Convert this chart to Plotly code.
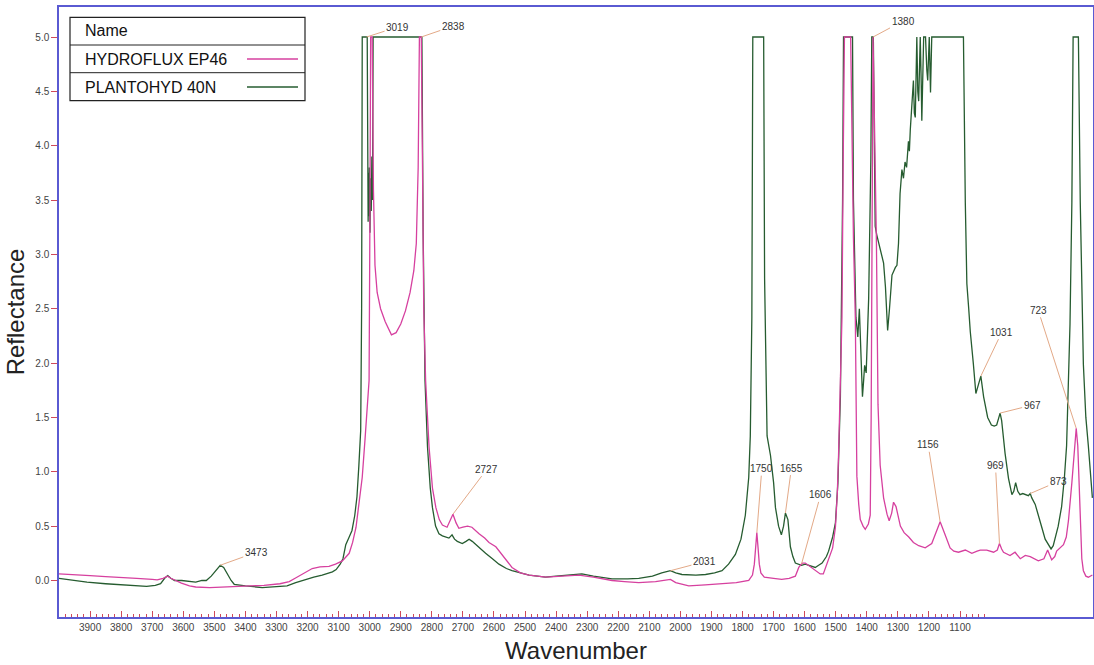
import numpy as np
import plotly.graph_objects as go

# ---------------- data ----------------
hydro_wn = [4000, 3950, 3900, 3850, 3800, 3750, 3700, 3684, 3665, 3651, 3640, 3620, 3606, 3580, 3560,
            3515, 3460, 3400, 3340, 3289, 3259, 3240, 3210, 3185, 3160, 3131, 3110, 3088, 3066, 3055,
            3044, 3034, 3024, 3015, 3008, 3002, 2999, 2997, 2992, 2988, 2983, 2976, 2965, 2950, 2930,
            2915, 2900, 2885, 2870, 2858, 2850, 2844, 2840, 2834, 2830, 2826, 2820, 2809, 2798, 2787,
            2776, 2766, 2751, 2742, 2732, 2722, 2713, 2700, 2685, 2671, 2660, 2648, 2630, 2616, 2594,
            2570, 2542, 2515, 2487, 2433, 2380, 2327, 2280, 2220, 2180, 2134, 2080, 2045, 2032, 2015,
            1973, 1920, 1867, 1820, 1780, 1768, 1762, 1757, 1754, 1750, 1746, 1741, 1730, 1700, 1674,
            1650, 1630, 1619, 1608, 1598, 1580, 1566, 1550, 1540, 1523, 1510, 1501, 1495, 1491, 1485,
            1480, 1476, 1472, 1452, 1448, 1443, 1437, 1432, 1426, 1421, 1412, 1405, 1395, 1389, 1386,
            1384, 1382, 1380, 1377, 1373, 1369, 1364, 1357, 1346, 1335, 1328, 1320, 1314, 1306, 1292,
            1280, 1265, 1250, 1233, 1212, 1191, 1175, 1164, 1148, 1132, 1120, 1105, 1083, 1062, 1045,
            1035, 1014, 992, 980, 973, 966, 960, 939, 923, 906, 890, 874, 860, 848, 830,
            818, 805, 795, 789, 767, 758, 751, 740, 732, 726, 721, 716, 713, 708, 703,
            695, 687, 674]
hydro_val = [0.06, 0.055, 0.045, 0.035, 0.03, 0.02, 0.01, 0.006, 0.02, 0.04, 0.02, -0.01, -0.025, -0.05, -0.06,
             -0.065, -0.06, -0.055, -0.045, -0.03, -0.01, 0.02, 0.07, 0.11, 0.125, 0.13, 0.15, 0.18, 0.25, 0.35,
             0.49, 0.7, 0.95, 1.3, 1.55, 1.84, 3.5, 5.0, 5.0, 3.6, 2.9, 2.65, 2.5, 2.38, 2.26,
             2.28, 2.36, 2.48, 2.65, 2.85, 3.1, 3.8, 5.0, 5.0, 3.8, 2.5, 1.84, 1.23, 0.85, 0.67,
             0.56, 0.51, 0.49, 0.54, 0.61, 0.53, 0.48, 0.49, 0.5, 0.49, 0.46, 0.43, 0.39, 0.35, 0.31,
             0.22, 0.12, 0.07, 0.05, 0.03, 0.04, 0.05, 0.03, 0.0, -0.01, -0.02, -0.01, 0.0, 0.01, -0.02,
             -0.05, -0.04, -0.03, -0.02, 0.0, 0.05, 0.15, 0.32, 0.44, 0.3, 0.15, 0.07, 0.03, 0.02, 0.01,
             0.02, 0.04, 0.12, 0.16, 0.16, 0.12, 0.09, 0.06, 0.06, 0.2, 0.3, 0.49, 0.8, 1.15, 1.8,
             2.42, 3.87, 5.0, 5.0, 4.0, 3.15, 2.42, 0.96, 0.7, 0.56, 0.5, 0.47, 0.52, 0.6, 1.5,
             2.42, 3.8, 5.0, 4.5, 3.85, 3.1, 1.62, 1.06, 0.76, 0.61, 0.55, 0.62, 0.72, 0.68, 0.5,
             0.44, 0.4, 0.35, 0.32, 0.3, 0.34, 0.46, 0.54, 0.42, 0.3, 0.27, 0.26, 0.28, 0.25, 0.27,
             0.28, 0.28, 0.26, 0.28, 0.34, 0.29, 0.26, 0.23, 0.26, 0.2, 0.23, 0.22, 0.2, 0.18, 0.2,
             0.28, 0.19, 0.22, 0.27, 0.33, 0.4, 0.55, 0.9, 1.24, 1.4, 1.24, 0.8, 0.5, 0.2, 0.09,
             0.04, 0.03, 0.05]

planto_wn = [4000, 3950, 3910, 3850, 3797, 3750, 3718, 3690, 3673, 3660, 3650, 3640, 3628, 3605, 3580,
             3560, 3540, 3526, 3510, 3495, 3481, 3470, 3458, 3446, 3436, 3400, 3346, 3300, 3266, 3238,
             3211, 3180, 3153, 3120, 3108, 3095, 3086, 3077, 3066, 3057, 3048, 3041, 3035, 3029, 3026,
             3024, 3008, 3006, 3005, 3004, 3002, 3001, 2999, 2997, 2995, 2993, 2991, 2989, 2832, 2828,
             2822, 2814, 2805, 2798, 2788, 2777, 2766, 2755, 2745, 2735, 2727, 2718, 2702, 2690, 2680,
             2670, 2659, 2645, 2627, 2605, 2584, 2560, 2542, 2487, 2434, 2400, 2349, 2317, 2280, 2220,
             2170, 2134, 2090, 2060, 2032, 2015, 1995, 1950, 1919, 1890, 1866, 1845, 1823, 1805, 1791,
             1780, 1775, 1770, 1767, 1732, 1729, 1721, 1710, 1700, 1694, 1684, 1675, 1668, 1662, 1654,
             1646, 1638, 1630, 1610, 1598, 1580, 1566, 1555, 1544, 1530, 1523, 1510, 1501, 1493, 1485,
             1478, 1475, 1446, 1443, 1435, 1429, 1424, 1418, 1414, 1410, 1407, 1402, 1394, 1387, 1384,
             1379, 1376, 1373, 1368, 1362, 1354, 1346, 1340, 1337, 1333, 1327, 1319, 1308, 1303, 1298,
             1293, 1287, 1282, 1277, 1272, 1266, 1263, 1260, 1255, 1250, 1247, 1244, 1239, 1236, 1233,
             1228, 1225, 1223, 1217, 1211, 1207, 1204, 1199, 1197, 1195, 1191, 1089, 1083, 1078, 1072,
             1067, 1057, 1049, 1041, 1033, 1024, 1011, 999, 990, 982, 976, 971, 966, 955, 944,
             933, 927, 921, 914, 907, 898, 890, 880, 874, 869, 858, 848, 836, 826, 815,
             807, 800, 794, 784, 773, 764, 757, 751, 746, 740, 736, 719, 713, 703, 695,
             687, 674]
planto_val = [0.02, 0.0, -0.015, -0.03, -0.04, -0.05, -0.055, -0.045, -0.03, 0.02, 0.045, 0.02, 0.0, 0.0, -0.01,
              -0.015, 0.0, 0.0, 0.04, 0.09, 0.14, 0.12, 0.06, 0.0, -0.035, -0.05, -0.065, -0.06, -0.05, -0.02,
              0.0, 0.03, 0.05, 0.08, 0.1, 0.15, 0.2, 0.33, 0.4, 0.46, 0.6, 0.77, 1.05, 1.38, 2.5,
              5.0, 5.0, 3.8, 3.3, 3.75, 3.35, 3.8, 3.2, 3.7, 3.4, 3.9, 3.5, 5.0, 5.0, 3.2,
              1.84, 1.23, 0.85, 0.67, 0.5, 0.43, 0.41, 0.4, 0.39, 0.42, 0.38, 0.36, 0.34, 0.36, 0.38,
              0.36, 0.33, 0.29, 0.25, 0.2, 0.15, 0.11, 0.09, 0.05, 0.03, 0.04, 0.05, 0.06, 0.04, 0.015,
              0.015, 0.02, 0.04, 0.07, 0.09, 0.07, 0.055, 0.05, 0.055, 0.07, 0.09, 0.15, 0.24, 0.38, 0.6,
              0.95, 1.33, 2.42, 5.0, 5.0, 2.78, 1.33, 1.15, 0.9, 0.67, 0.5, 0.42, 0.5, 0.62, 0.56,
              0.31, 0.22, 0.16, 0.14, 0.15, 0.13, 0.12, 0.14, 0.16, 0.22, 0.27, 0.4, 0.53, 0.9, 1.69,
              3.5, 5.0, 5.0, 3.5, 2.42, 2.24, 2.5, 2.05, 1.69, 1.85, 1.98, 1.91, 2.6, 3.87, 5.0,
              5.0, 3.8, 3.26, 3.18, 3.1, 3.0, 2.92, 2.7, 2.44, 2.3, 2.5, 2.81, 2.88, 2.9, 3.1,
              3.56, 3.78, 3.7, 3.85, 3.8, 4.04, 3.95, 4.15, 4.34, 4.6, 4.3, 4.26, 5.0, 4.5, 4.41,
              5.0, 4.6, 4.23, 5.0, 5.0, 4.7, 4.6, 5.0, 4.8, 4.49, 5.0, 5.0, 3.48, 2.73, 2.5,
              2.29, 1.99, 1.72, 1.8, 1.88, 1.69, 1.5, 1.43, 1.42, 1.43, 1.5, 1.54, 1.47, 1.17, 0.94,
              0.79, 0.82, 0.9, 0.82, 0.79, 0.8, 0.79, 0.78, 0.8, 0.76, 0.7, 0.61, 0.48, 0.38, 0.32,
              0.29, 0.32, 0.38, 0.5, 0.68, 0.95, 1.24, 1.8, 2.36, 3.48, 5.0, 5.0, 3.48, 1.99, 1.5,
              1.24, 0.76]

series_names = ["HYDROFLUX EP46", "PLANTOHYD 40N"]

# peak labels: text, series index, wavenumber of labelled point, text offset (px)
peak_labels = ["3473", "3019", "2838", "2727", "2031", "1750", "1655", "1606",
               "1380", "1156", "1031", "967", "969", "873", "723"]
peak_series = [1, 1, 1, 0, 1, 0, 1, 0, 0, 0, 1, 1, 0, 1, 0]
peak_wn = [3481, 3010, 2834, 2732, 2032, 1754, 1662, 1610,
           1380, 1164, 1033, 971, 973, 874, 726]
peak_dx = [36, 31, 32, 34, 34, 5, 6, 19, 30, -12, 21, 32, -4, 28, -38]
peak_dy = [-13, -10, -11, -45, -9, -64, -45, -69, -16, -77, -44, -8, -78, -12, -118]

x_major = list(range(3900, 1000, -100))
x_minor = [v for v in range(3980, 1000, -20) if v % 100 != 0]
y_ticks = [i * 0.5 for i in range(11)]

# ---------------- styling ----------------
MAGENTA = "#d6409f"
GREEN = "#265c30"
AXIS_BLUE = "#5a5ad2"
TICK_RED = "#d04a5a"
LEADER = "#e3a987"
FONT = "Liberation Sans, Arial, sans-serif"

W, H = 1094, 665
L, R, T, B = 59, 1093, 7, 617


def pxx(v):
    return (v - L) / (R - L)


def pxy(v):
    return 1 - (v - T) / (B - T)


fig = go.Figure()
fig.add_trace(go.Scatter(x=planto_wn, y=planto_val, mode="lines", name=series_names[1],
                         line=dict(color=GREEN, width=1.3)))
fig.add_trace(go.Scatter(x=hydro_wn, y=hydro_val, mode="lines", name=series_names[0],
                         line=dict(color=MAGENTA, width=1.3)))

series_xy = [(hydro_wn, hydro_val), (planto_wn, planto_val)]
annotations = []
for lab, si, wn, dx, dy in zip(peak_labels, peak_series, peak_wn, peak_dx, peak_dy):
    xs, ys = series_xy[si]
    yv = float(np.interp(wn, xs[::-1], ys[::-1]))
    annotations.append(dict(x=wn, y=yv, xref="x", yref="y", text=lab, showarrow=True,
                            arrowhead=0, arrowwidth=1, arrowcolor=LEADER, ax=dx, ay=dy,
                            standoff=0, font=dict(size=10, color="#333333", family=FONT)))

# legend table (drawn as a boxed table like the reference)
box_l, box_r, box_t, box_b = 70, 305, 17.3, 100.7
row1, row2 = 45, 72.7
shapes = [
    dict(type="rect", xref="paper", yref="paper", x0=pxx(box_l), x1=pxx(box_r),
         y0=pxy(box_b), y1=pxy(box_t), line=dict(color="#222222", width=1.2),
         fillcolor="white", layer="above"),
    dict(type="line", xref="paper", yref="paper", x0=pxx(box_l), x1=pxx(box_r),
         y0=pxy(row1), y1=pxy(row1), line=dict(color="#222222", width=1), layer="above"),
    dict(type="line", xref="paper", yref="paper", x0=pxx(box_l), x1=pxx(box_r),
         y0=pxy(row2), y1=pxy(row2), line=dict(color="#222222", width=1), layer="above"),
    dict(type="line", xref="paper", yref="paper", x0=pxx(247), x1=pxx(298),
         y0=pxy(59), y1=pxy(59), line=dict(color=MAGENTA, width=1.3), layer="above"),
    dict(type="line", xref="paper", yref="paper", x0=pxx(247), x1=pxx(298),
         y0=pxy(87), y1=pxy(87), line=dict(color=GREEN, width=1.3), layer="above"),
]
for txt, yy in [("Name", 31), (series_names[0], 59), (series_names[1], 87)]:
    annotations.append(dict(x=pxx(83), y=pxy(yy), xref="paper", yref="paper", text=txt,
                            showarrow=False, xanchor="left", yanchor="middle",
                            font=dict(size=16, color="#111111", family=FONT)))

fig.update_layout(
    width=W, height=H,
    margin=dict(l=L, r=W - R, t=T, b=H - B, autoexpand=False),
    paper_bgcolor="white", plot_bgcolor="white",
    showlegend=False,
    font=dict(family=FONT),
    shapes=shapes,
    annotations=annotations,
)
fig.update_xaxes(
    range=[4000, 672], autorange=False,
    tickmode="array", tickvals=x_major, ticktext=[str(v) for v in x_major],
    ticks="inside", ticklen=6, tickwidth=1, tickcolor=TICK_RED,
    minor=dict(tickmode="array", tickvals=x_minor, ticks="inside", ticklen=3,
               tickwidth=1, tickcolor=TICK_RED, showgrid=False),
    showline=True, linecolor=AXIS_BLUE, linewidth=1.5, mirror=True,
    showgrid=False, zeroline=False,
    tickfont=dict(size=10, color="#444444", family=FONT),
    title=dict(text="Wavenumber", font=dict(size=24, color="#222222", family=FONT), standoff=10),
)
fig.update_yaxes(
    range=[-0.336, 5.276], autorange=False,
    tickmode="array", tickvals=y_ticks, ticktext=["%.1f" % v for v in y_ticks],
    ticks="outside", ticklen=6, tickwidth=1, tickcolor=TICK_RED,
    showline=True, linecolor=AXIS_BLUE, linewidth=1.5, mirror=True,
    showgrid=False, zeroline=False,
    tickfont=dict(size=10, color="#444444", family=FONT),
    title=dict(text="Reflectance", font=dict(size=24, color="#222222", family=FONT), standoff=4),
)

fig.write_html("out.html",
               config={"displayModeBar": False},
               post_script="document.body.style.margin='0px';document.body.style.overflow='hidden';")
